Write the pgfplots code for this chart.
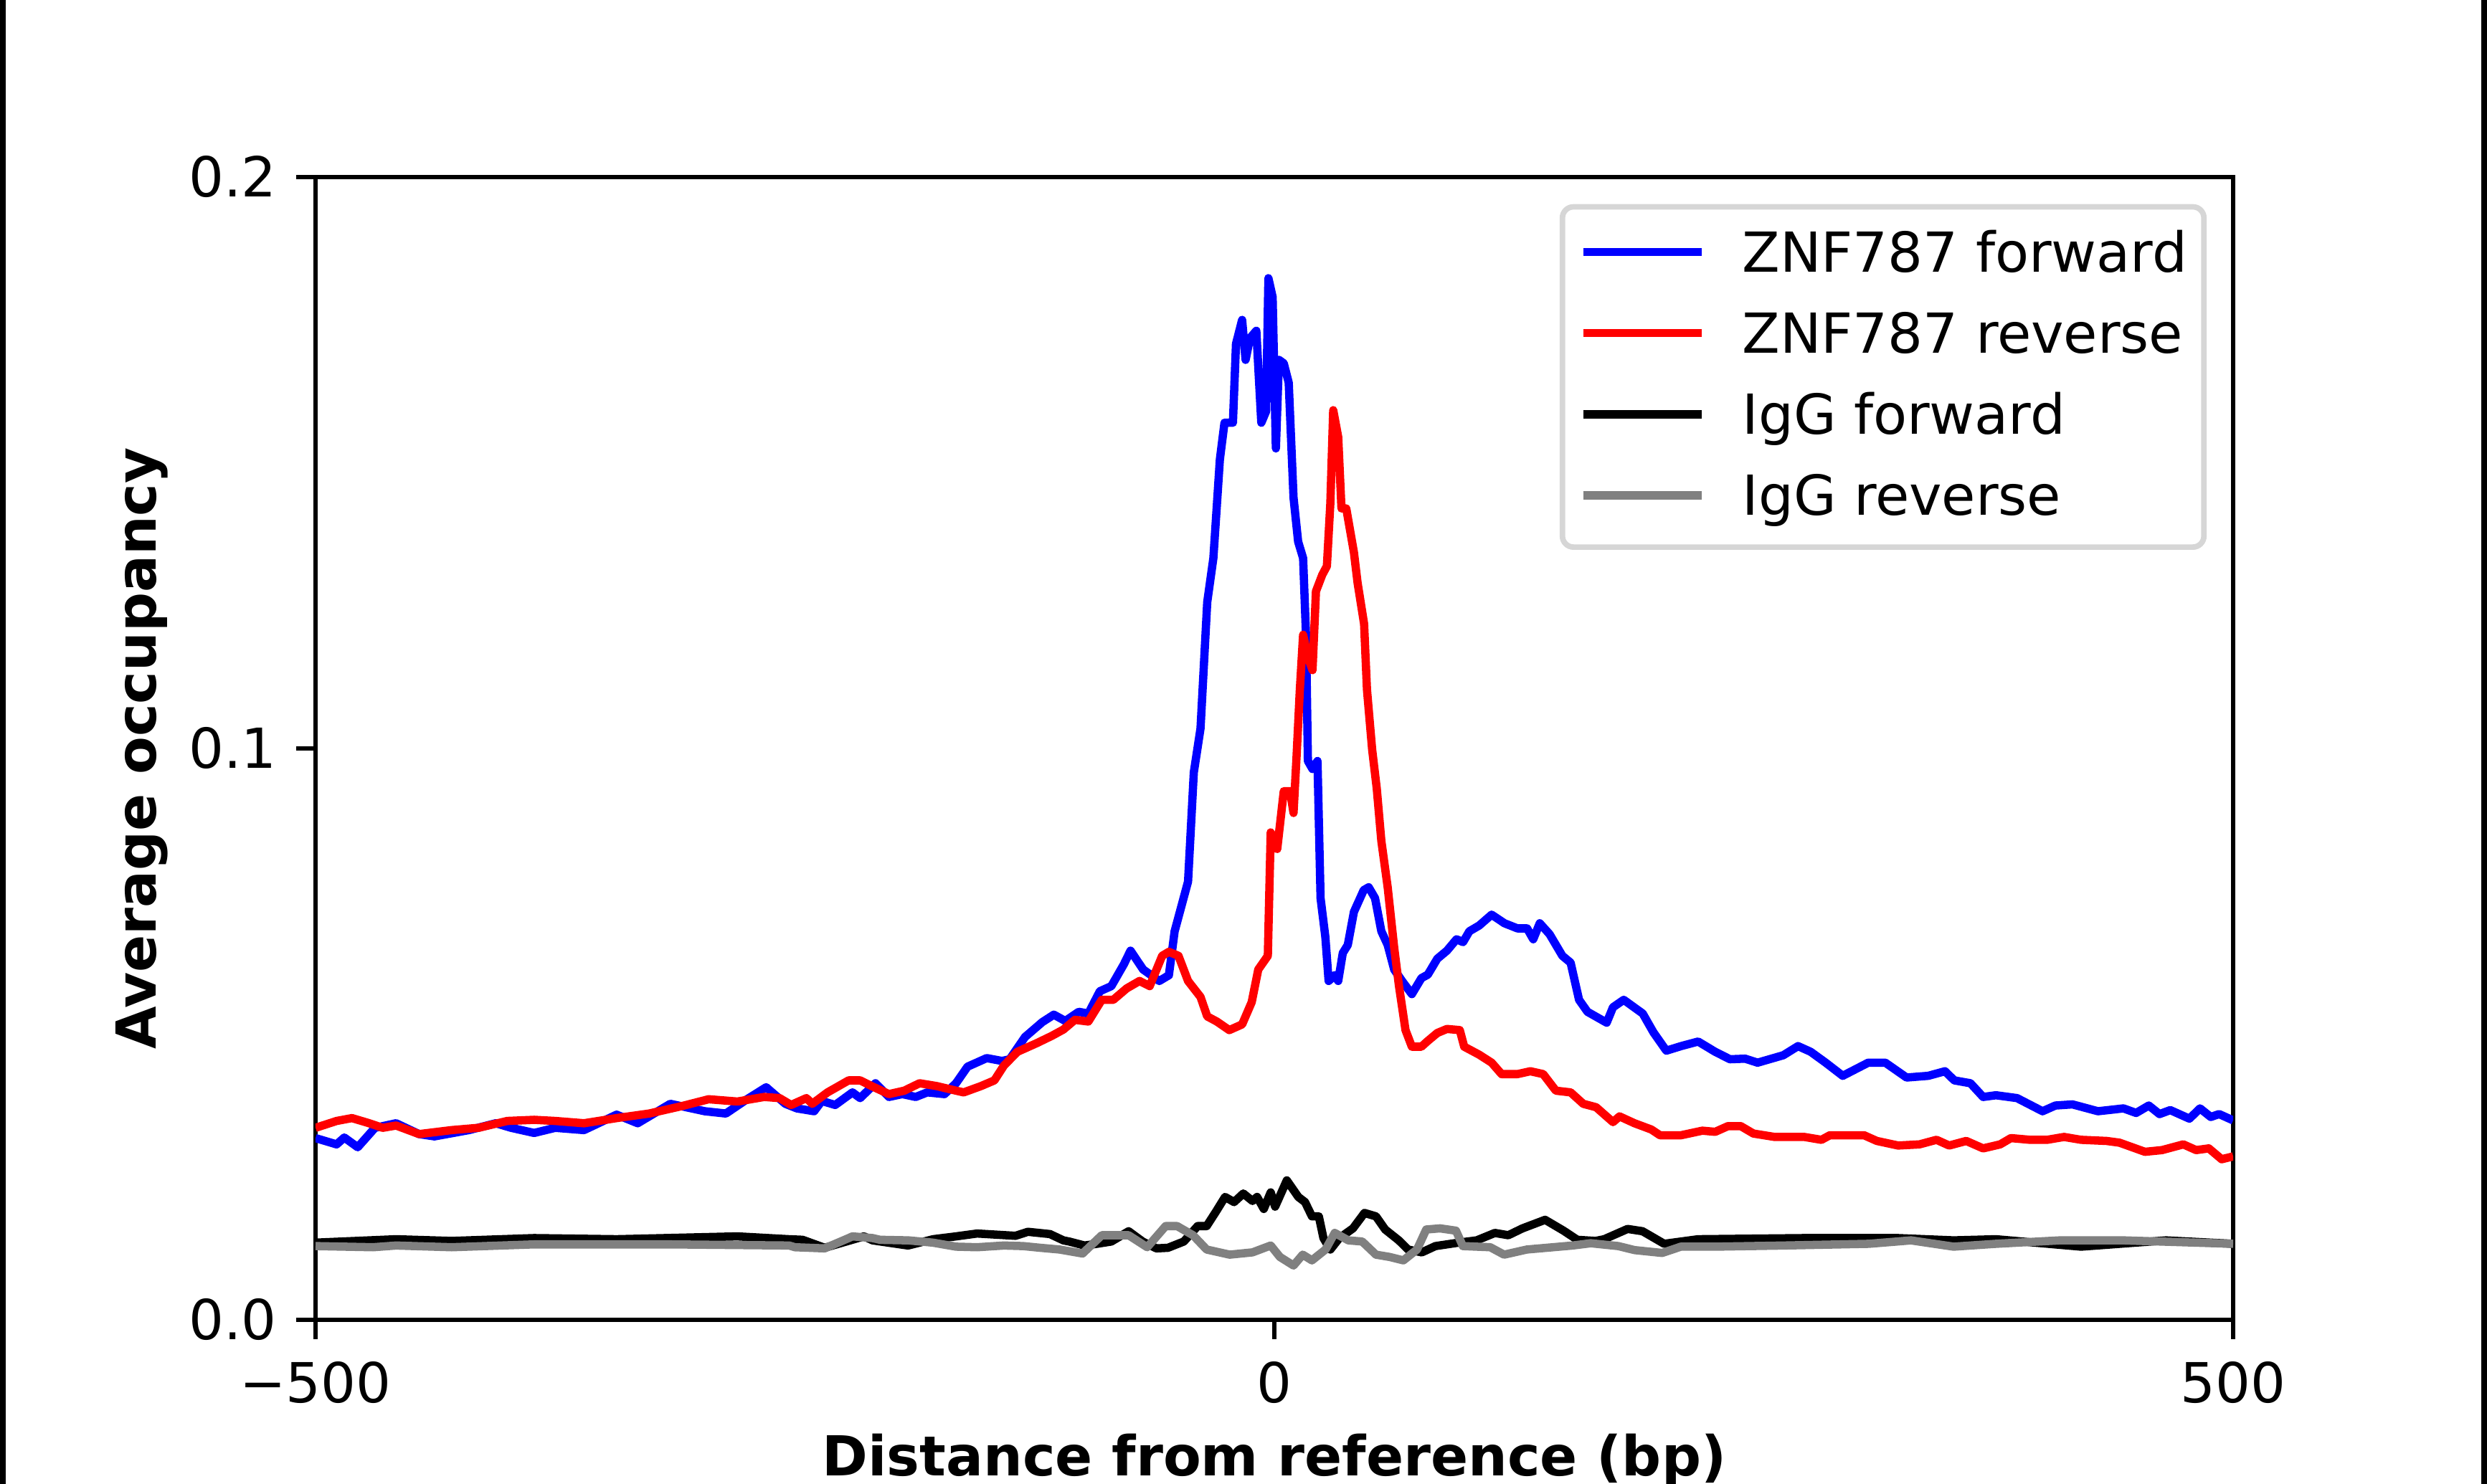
\documentclass[border=0pt]{standalone}
\usepackage{fontspec}
\setmainfont{DejaVu Sans}
\usepackage{pgfplots}
\pgfplotsset{compat=1.18}

\definecolor{legendedge}{gray}{0.84}
\definecolor{iggrev}{RGB}{128,128,128}

\begin{document}
\begin{tikzpicture}
\begin{axis}[
  at={(0,0)}, anchor=south west,
  scale only axis,
  width=347.62pt, height=207.22pt,
  xmin=-500, xmax=500, ymin=0, ymax=0.2,
  xtick={-500,0,500}, xticklabels={−500,0,500},
  ytick={0,0.1,0.2}, yticklabels={0.0,0.1,0.2},
  tick align=outside, tick pos=left,
  major tick length=3.5pt,
  tick style={black, line width=0.8pt},
  axis line style={line width=0.8pt},
  xticklabel style={yshift=-0.6pt},
  xlabel={\bfseries Distance from reference (bp)},
  ylabel={\bfseries Average occupancy},
  every axis x label/.style={at={(axis description cs:0.5,-0.1366)}, anchor=base},
  every axis y label/.style={at={(axis description cs:-0.0831,0.5)}, rotate=90, anchor=base},
  legend style={
    at={(1,1)}, anchor=north east, xshift=-4.8pt, yshift=-4.9pt,
    draw=legendedge, line width=1pt, rounded corners=2pt, fill=white,
    inner xsep=3pt, inner ysep=3.8pt,
    row sep=4.7pt,
    nodes={inner sep=0pt, text height=8pt, text depth=2pt, anchor=base west},
    /tikz/every odd column/.append style={column sep=6.6pt},
  },
  legend cell align=left,
  legend image code/.code={\path (0pt,0pt); \draw[#1, line cap=butt] (0pt,3.6pt) -- (21.5pt,3.6pt);},
  every axis plot/.append style={line width=1.5pt, line join=round},
]

% ZNF787, forward strand
\addplot[blue] coordinates {
(-500,0.0318) (-497,0.0315) (-489,0.0307) (-485,0.0319) (-478,0.0302) (-469,0.0336)
(-458,0.0344) (-446,0.0325) (-438,0.0321) (-420,0.0332) (-406,0.0344) (-398,0.0336)
(-386,0.0327) (-375,0.0336) (-360,0.0332) (-343,0.0359) (-332,0.0344) (-315,0.0378)
(-297,0.0365) (-286,0.0361) (-275,0.0386) (-265,0.0407) (-255,0.0378) (-249,0.0370)
(-240,0.0365) (-236,0.0383) (-229,0.0376) (-220,0.0398) (-216,0.0388) (-208,0.0414)
(-201,0.0390) (-194,0.0395) (-187,0.0390) (-181,0.0398) (-172,0.0395) (-166,0.0414)
(-160,0.0443) (-150,0.0458) (-142,0.0453) (-138,0.0456) (-130,0.0495) (-121,0.0521)
(-115,0.0534) (-109,0.0523) (-102,0.0539) (-97,0.0536) (-91,0.0575) (-85,0.0584)
(-78.5,0.0622) (-75,0.0646) (-68.4,0.0613) (-60,0.0593) (-55,0.0603) (-52,0.0680)
(-45,0.0767) (-42,0.0958) (-38.5,0.1035) (-35,0.1256) (-31.8,0.1333) (-28.4,0.1506)
(-26,0.1570) (-21.6,0.1570) (-20,0.1708) (-16.8,0.1750) (-15,0.1680) (-12.7,0.1718)
(-9.4,0.1731) (-6.8,0.1570) (-4.3,0.1590) (-3.1,0.1823) (-0.9,0.1790) (0.8,0.1525)
(2.4,0.1680) (4.9,0.1674) (7.5,0.1640) (10,0.1439) (12.4,0.1362) (15,0.1333)
(16.5,0.1199) (17.5,0.0978) (19.9,0.0964) (22.5,0.0978) (24.1,0.0738) (26.6,0.0670)
(28.3,0.0593) (31.5,0.0603) (33.3,0.0593) (35.7,0.0642) (38.3,0.0656) (41.5,0.0714)
(46.6,0.0752) (49.2,0.0757) (52.5,0.0738) (55.8,0.0680) (59.1,0.0656) (62.5,0.0613)
(66.6,0.0593) (71.7,0.0570) (76.7,0.0598) (80,0.0604) (85,0.0632) (90,0.0646)
(95,0.0666) (98.4,0.0661) (101.7,0.0680) (106.8,0.0690) (113.3,0.0709) (120,0.0694)
(126.8,0.0685) (131.8,0.0685) (135,0.0666) (138.4,0.0694) (143.5,0.0675) (150.2,0.0637)
(154.5,0.0625) (158.9,0.0560) (163.3,0.0539) (173.3,0.0520) (176.6,0.0547) (182.2,0.0560)
(192.1,0.0536) (197.7,0.0503) (204.4,0.0471) (212.1,0.0479) (221,0.0487) (229.9,0.0469)
(237.6,0.0456) (245.5,0.0457) (252,0.0450) (265.4,0.0463) (273.1,0.0479) (279.7,0.0469)
(287.5,0.0450) (296.4,0.0427) (309.7,0.0450) (318.6,0.0450) (329.7,0.0424) (341,0.0427)
(349.7,0.0435) (354.6,0.0419) (363,0.0414) (369.6,0.0390) (376.3,0.0393) (387.3,0.0388)
(400.6,0.0365) (407.3,0.0375) (416.2,0.0377) (429.5,0.0365) (442.8,0.0370) (449.4,0.0362)
(456,0.0375) (461.6,0.0360) (467.2,0.0367) (477.2,0.0352) (482.7,0.0370) (488.3,0.0355)
(492.7,0.0360) (500,0.0349)
};
\addlegendentry{ZNF787 forward}

% ZNF787, reverse strand
\addplot[red] coordinates {
(-500,0.0336) (-489,0.0348) (-481,0.0353) (-472,0.0344) (-465,0.0336) (-458,0.0340)
(-446,0.0325) (-429,0.0332) (-415,0.0336) (-400,0.0348) (-386,0.0350) (-375,0.0348)
(-360,0.0344) (-343,0.0353) (-326,0.0361) (-309,0.0374) (-295,0.0386) (-280,0.0382)
(-266,0.0390) (-258,0.0388) (-252,0.0376) (-244,0.0388) (-241,0.0378) (-233,0.0398)
(-222,0.0419) (-216,0.0419) (-210,0.0409) (-201,0.0395) (-193,0.0401) (-185,0.0414)
(-176,0.0409) (-166,0.0401) (-162,0.0398) (-153,0.0409) (-146,0.0419) (-141,0.0445)
(-134,0.0469) (-124,0.0484) (-116,0.0497) (-110,0.0508) (-104,0.0525) (-97,0.0522)
(-90,0.0560) (-84,0.0560) (-77,0.0580) (-70.3,0.0593) (-65,0.0584) (-58.5,0.0637)
(-55,0.0644) (-50,0.0637) (-45,0.0593) (-38.5,0.0565) (-35,0.0531) (-30,0.0522)
(-23.5,0.0507) (-16.8,0.0517) (-11.8,0.0556) (-8.4,0.0613) (-3.4,0.0637) (-1.9,0.0853)
(1.5,0.0824) (4.9,0.0925) (8.2,0.0925) (10,0.0887) (11.6,0.0987) (13.3,0.1103)
(15,0.1199) (17.5,0.1160) (19.9,0.1137) (21.7,0.1275) (25,0.1304) (27.4,0.1319)
(29.2,0.1429) (30.7,0.1592) (33.3,0.1545) (35,0.1420) (37.5,0.1420) (41.5,0.1343)
(43.4,0.1290) (46.8,0.1218) (48.3,0.1103) (51,0.0998) (53.4,0.0930) (55.8,0.0838)
(59.1,0.0757) (62.5,0.0651) (65,0.0584) (68.4,0.0507) (71.7,0.0478) (76.7,0.0478)
(80,0.0488) (85,0.0502) (90,0.0509) (96.7,0.0507) (99,0.0478) (106.8,0.0464)
(113.3,0.0450) (118.5,0.0430) (126.8,0.0430) (133.5,0.0435) (140.2,0.0430) (146.8,0.0401)
(154.5,0.0398) (161.1,0.0378) (167.8,0.0372) (176.6,0.0346) (180,0.0356) (187.8,0.0344)
(196.6,0.0333) (201.1,0.0323) (212.1,0.0323) (223.2,0.0331) (229.9,0.0329) (236.6,0.0339)
(243.2,0.0339) (249.8,0.0326) (260.9,0.0320) (276.4,0.0320) (285.3,0.0315) (289.7,0.0323)
(307.5,0.0323) (314.2,0.0313) (325.3,0.0305) (336.4,0.0307) (345.3,0.0315) (351.9,0.0305)
(360.8,0.0313) (369.6,0.0300) (378.5,0.0307) (384.1,0.0318) (394.1,0.0315) (403,0.0315)
(411.8,0.0320) (420.7,0.0315) (434,0.0313) (440.7,0.0310) (454,0.0294) (462.9,0.0297)
(474,0.0307) (480.7,0.0297) (487.3,0.0300) (494,0.0281) (500,0.0286)
};
\addlegendentry{ZNF787 reverse}

% IgG control, forward strand
\addplot[black] coordinates {
(-500,0.0135) (-458,0.0141) (-429,0.0138) (-386,0.0143) (-343,0.0141) (-280,0.0146)
(-253,0.0141) (-246,0.0140) (-234.5,0.0126) (-214,0.0146) (-209.5,0.0139) (-191,0.0130)
(-178,0.0141) (-166,0.0146) (-155,0.0151) (-135,0.0147) (-128.5,0.0154) (-117,0.0150)
(-110,0.0139) (-107,0.0137) (-99,0.0130) (-92.5,0.0133) (-85,0.0137) (-76,0.0155)
(-68.7,0.0137) (-61.5,0.0125) (-55.5,0.0126) (-47.2,0.0137) (-40,0.0164) (-35.3,0.0164)
(-30.5,0.0189) (-25.7,0.0215) (-21,0.0206) (-16.2,0.0221) (-11.4,0.0208) (-9,0.0215)
(-5.5,0.0194) (-1.9,0.0223) (0.4,0.0198) (6.5,0.0244) (12.5,0.0215) (16,0.0206)
(19.6,0.0181) (23.2,0.0181) (25.6,0.0143) (29.2,0.0123) (33.9,0.0143) (41,0.0160)
(47,0.0187) (53,0.0181) (57.8,0.0158) (64.9,0.0139) (69.7,0.0123) (76.9,0.0118)
(84,0.0129) (96,0.0135) (105.5,0.0139) (115,0.0152) (122,0.0148) (129.4,0.0160)
(141.2,0.0175) (150.8,0.0156) (158,0.0140) (167.5,0.0138) (172,0.0141) (184.2,0.0159)
(192,0.0155) (203.3,0.0133) (221,0.0141) (276.4,0.0143) (325.3,0.0143) (354.2,0.0139)
(376.3,0.0141) (420.7,0.0128) (465,0.0139) (500,0.0133)
};
\addlegendentry{IgG forward}

% IgG control, reverse strand
\addplot[iggrev] coordinates {
(-500,0.0129) (-470,0.0127) (-458,0.0130) (-429,0.0127) (-386,0.0132) (-315,0.0132)
(-253,0.0130) (-250,0.0127) (-234.5,0.0125) (-222,0.0143) (-220,0.0146) (-209.5,0.0143)
(-205.6,0.0140) (-190.8,0.0139) (-178,0.0135) (-166,0.0128) (-155,0.0127) (-141,0.0130)
(-131,0.0129) (-122,0.0126) (-112,0.0123) (-100,0.0116) (-90,0.0148) (-76,0.0148)
(-66.3,0.0127) (-56.7,0.0164) (-50.7,0.0164) (-42.4,0.0148) (-35.3,0.0123) (-23.3,0.0114)
(-11.4,0.0118) (-1.9,0.0130) (2.9,0.0110) (10,0.0095) (14.8,0.0114) (19.6,0.0104)
(26.7,0.0123) (31.5,0.0152) (38.6,0.0139) (45.8,0.0137) (53,0.0114) (60.1,0.0110)
(67.3,0.0104) (74.4,0.0123) (79.2,0.0158) (86.4,0.0160) (94.7,0.0156) (98.3,0.0129)
(112.6,0.0127) (119.8,0.0114) (131.7,0.0123) (155.5,0.0130) (165,0.0134) (179.4,0.0129)
(187.8,0.0122) (202.2,0.0117) (212,0.0128) (230,0.0128) (265.5,0.0130) (310,0.0133)
(332,0.0139) (354.2,0.0128) (376.3,0.0133) (409.6,0.0139) (442.8,0.0139) (500,0.0133)
};
\addlegendentry{IgG reverse}
\end{axis}

% dark edge bands on both sides of the figure
\fill[black] (-57.2pt,-29.77pt) rectangle (-56.1pt,239.33pt);
\fill[black] (392.54pt,-29.77pt) rectangle (393.64pt,239.33pt);

\pgfresetboundingbox
\path (-57.2pt,-29.77pt) rectangle (393.64pt,239.33pt);
\end{tikzpicture}
\end{document}
